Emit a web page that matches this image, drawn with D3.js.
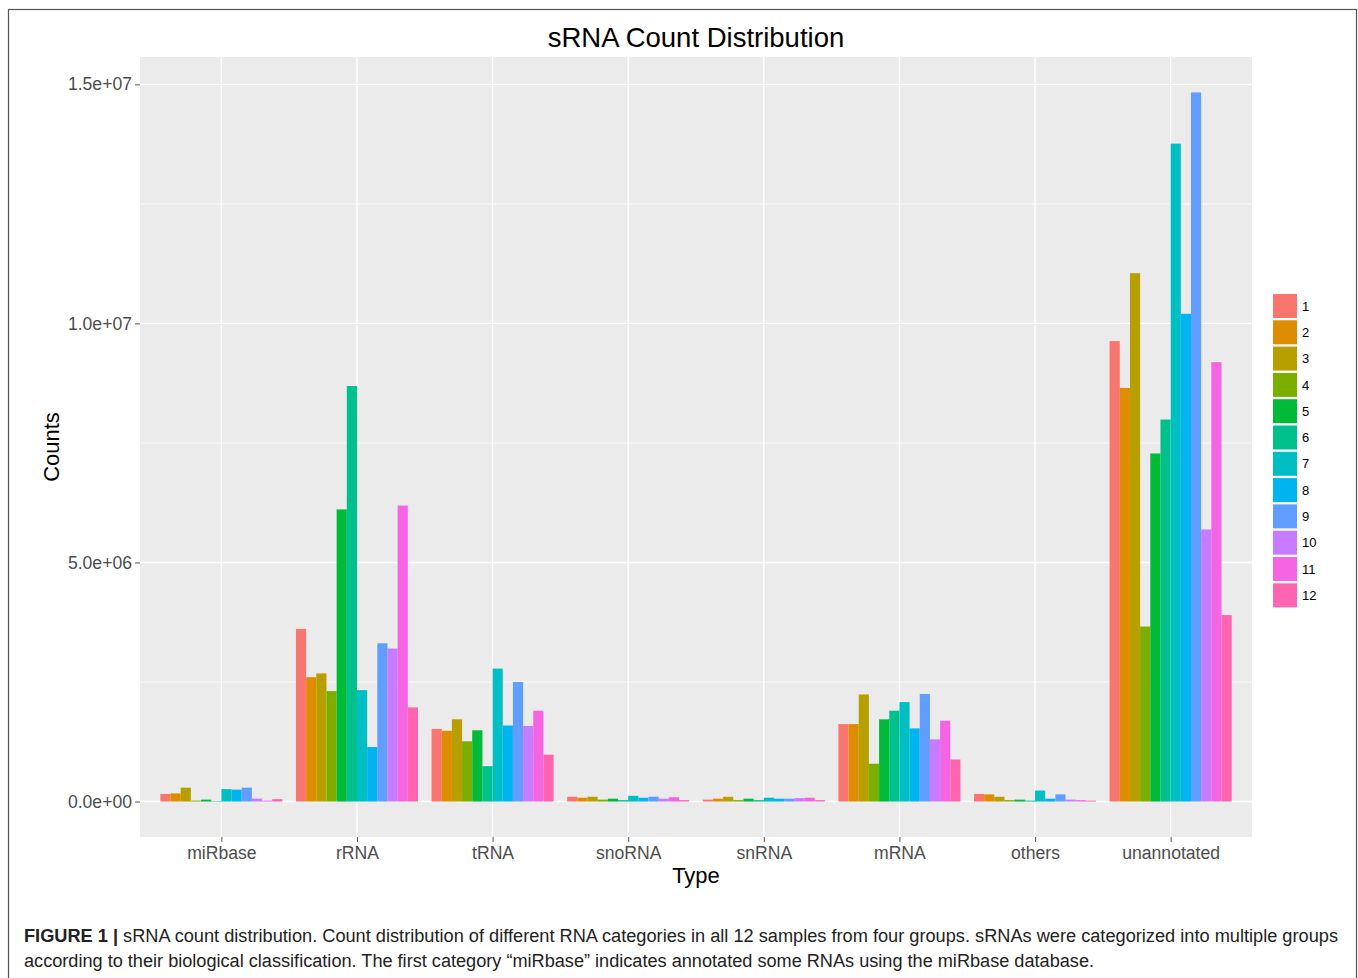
<!DOCTYPE html>
<html>
<head>
<meta charset="utf-8">
<script src="https://cdn.jsdelivr.net/npm/d3@7"></script>
<style>
  body { margin: 0; background: #fff; }
  svg text { font-family: "Liberation Sans", Arial, sans-serif; }
</style>
</head>
<body>
<div id="chart"></div>
<script>
// categories and samples
var types = ["miRbase", "rRNA", "tRNA", "snoRNA", "snRNA", "mRNA", "others", "unannotated"];
var samples = ["1", "2", "3", "4", "5", "6", "7", "8", "9", "10", "11", "12"];

// counts per sample, in millions
var miRbase     = [0.16, 0.17, 0.29, 0.02, 0.04, 0.01, 0.26, 0.25, 0.29, 0.06, 0.02, 0.05];
var rRNA        = [3.61, 2.60, 2.68, 2.31, 6.11, 8.69, 2.33, 1.14, 3.31, 3.20, 6.19, 1.97];
var tRNA        = [1.52, 1.48, 1.72, 1.26, 1.49, 0.74, 2.78, 1.59, 2.50, 1.58, 1.90, 0.98];
var snoRNA      = [0.10, 0.08, 0.10, 0.04, 0.06, 0.03, 0.12, 0.08, 0.10, 0.06, 0.09, 0.03];
var snRNA       = [0.04, 0.06, 0.10, 0.03, 0.06, 0.03, 0.08, 0.06, 0.06, 0.07, 0.08, 0.03];
var mRNA        = [1.62, 1.62, 2.24, 0.79, 1.72, 1.90, 2.08, 1.53, 2.25, 1.30, 1.69, 0.88];
var others      = [0.16, 0.15, 0.10, 0.03, 0.04, 0.02, 0.23, 0.06, 0.15, 0.04, 0.03, 0.02];
var unannotated = [9.63, 8.65, 11.05, 3.66, 7.28, 7.99, 13.76, 10.20, 14.83, 5.69, 9.19, 3.90];

var yTicks = [0, 5e6, 1e7, 1.5e7];
var yTickLabels = ["0.0e+00", "5.0e+06", "1.0e+07", "1.5e+07"];
var yMinor = [2.5e6, 7.5e6, 1.25e7];

var colors = ["#F8766D", "#DE8C00", "#B79F00", "#7CAE00", "#00BA38", "#00C08B",
              "#00BFC4", "#00B4F0", "#619CFF", "#C77CFF", "#F564E3", "#FF64B0"];

var series = [miRbase, rRNA, tRNA, snoRNA, snRNA, mRNA, others, unannotated];
var data = [];
types.forEach(function (t, i) {
    series[i].forEach(function (v, j) {
        data.push({ type: t, sample: samples[j], value: v * 1e6 });
    });
});

var svgWidth = 1358;
var svgHeight = 978;

var svg = d3.select("#chart")
    .append("svg")
    .attr("width", svgWidth)
    .attr("height", svgHeight);

// outer figure frame
svg.append("rect")
    .attr("x", 8.5).attr("y", 9.5)
    .attr("width", 1348).attr("height", 990)
    .attr("fill", "none")
    .attr("stroke", "#555")
    .attr("stroke-width", 1.2);

// panel
var panel = { left: 140, top: 57, right: 1252, bottom: 837 };
var panelW = panel.right - panel.left;
var panelH = panel.bottom - panel.top;

var g = svg.append("g")
    .attr("transform", `translate(${panel.left}, ${panel.top})`);

g.append("rect")
    .attr("width", panelW)
    .attr("height", panelH)
    .attr("fill", "#EBEBEB");

// ggplot style expansion
var yMax = d3.max(data, d => d.value);
var yScale = d3.scaleLinear()
    .domain([-0.05 * yMax, 1.05 * yMax])
    .range([panelH, 0]);

var unit = panelW / (types.length - 1 + 1.2);
var xScale = d3.scalePoint()
    .domain(types)
    .range([0.6 * unit, panelW - 0.6 * unit]);

var innerScale = d3.scaleBand()
    .domain(samples)
    .range([-0.45 * unit, 0.45 * unit]);

// grid
g.selectAll(".minor")
    .data(yMinor)
    .enter()
    .append("line")
    .attr("x1", 0).attr("x2", panelW)
    .attr("y1", d => yScale(d)).attr("y2", d => yScale(d))
    .attr("stroke", "#fff").attr("stroke-width", 0.7);

g.selectAll(".major")
    .data(yTicks)
    .enter()
    .append("line")
    .attr("x1", 0).attr("x2", panelW)
    .attr("y1", d => yScale(d)).attr("y2", d => yScale(d))
    .attr("stroke", "#fff").attr("stroke-width", 1.4);

g.selectAll(".vmajor")
    .data(types)
    .enter()
    .append("line")
    .attr("x1", d => xScale(d)).attr("x2", d => xScale(d))
    .attr("y1", 0).attr("y2", panelH)
    .attr("stroke", "#fff").attr("stroke-width", 1.4);

// bars
g.selectAll(".bar")
    .data(data)
    .enter()
    .append("rect")
    .attr("x", d => xScale(d.type) + innerScale(d.sample))
    .attr("width", innerScale.bandwidth())
    .attr("y", d => yScale(d.value))
    .attr("height", d => yScale(0) - yScale(d.value))
    .attr("fill", d => colors[samples.indexOf(d.sample)]);

// axes
var leftAxis = d3.axisLeft(yScale)
    .tickValues(yTicks)
    .tickFormat((d, i) => yTickLabels[i])
    .tickSize(5)
    .tickPadding(3);

var yAxisG = g.append("g").call(leftAxis);
yAxisG.select(".domain").remove();
yAxisG.selectAll("line").attr("stroke", "#555").attr("stroke-width", 1);
yAxisG.selectAll("text")
    .attr("fill", "#4D4D4D")
    .style("font-size", "17.6px")
    .style("font-family", "Liberation Sans, Arial, sans-serif");

var bottomAxis = d3.axisBottom(xScale)
    .tickSize(5)
    .tickPadding(5);

var xAxisG = g.append("g")
    .attr("transform", `translate(0, ${panelH})`)
    .call(bottomAxis);
xAxisG.select(".domain").remove();
xAxisG.selectAll("line").attr("stroke", "#555").attr("stroke-width", 1);
xAxisG.selectAll("text")
    .attr("fill", "#4D4D4D")
    .style("font-size", "17.6px")
    .style("font-family", "Liberation Sans, Arial, sans-serif");

// titles
svg.append("text")
    .attr("x", panel.left + panelW / 2)
    .attr("y", 47)
    .attr("text-anchor", "middle")
    .style("font-size", "27.5px")
    .text("sRNA Count Distribution");

svg.append("text")
    .attr("x", panel.left + panelW / 2)
    .attr("y", 883)
    .attr("text-anchor", "middle")
    .style("font-size", "22px")
    .text("Type");

svg.append("text")
    .attr("transform", `translate(59, ${panel.top + panelH / 2}) rotate(-90)`)
    .attr("text-anchor", "middle")
    .style("font-size", "22px")
    .text("Counts");

// legend
var legend = svg.append("g")
    .attr("transform", "translate(1273, 294)");

var keys = legend.selectAll(".key")
    .data(samples)
    .enter()
    .append("g")
    .attr("transform", (d, i) => `translate(0, ${i * 26.3})`);

keys.append("rect")
    .attr("width", 24)
    .attr("height", 24)
    .attr("fill", (d, i) => colors[i]);

keys.append("text")
    .attr("x", 29)
    .attr("y", 12)
    .attr("dy", "0.36em")
    .style("font-size", "13px")
    .text(d => d);

// caption
var caption = svg.append("g")
    .style("font-family", "'Liberation Sans Narrow', 'Liberation Sans', Arial, sans-serif")
    .style("font-size", "18px")
    .attr("fill", "#222");

var line1 = caption.append("text")
    .attr("x", 24).attr("y", 942)
    .attr("textLength", 1314)
    .attr("lengthAdjust", "spacingAndGlyphs");
line1.append("tspan").style("font-weight", "bold").text("FIGURE 1 | ");
line1.append("tspan").text("sRNA count distribution. Count distribution of different RNA categories in all 12 samples from four groups. sRNAs were categorized into multiple groups");

caption.append("text")
    .attr("x", 24).attr("y", 967)
    .attr("textLength", 1070)
    .attr("lengthAdjust", "spacingAndGlyphs")
    .text("according to their biological classification. The first category \u201CmiRbase\u201D indicates annotated some RNAs using the miRbase database.");
</script>
</body>
</html>
